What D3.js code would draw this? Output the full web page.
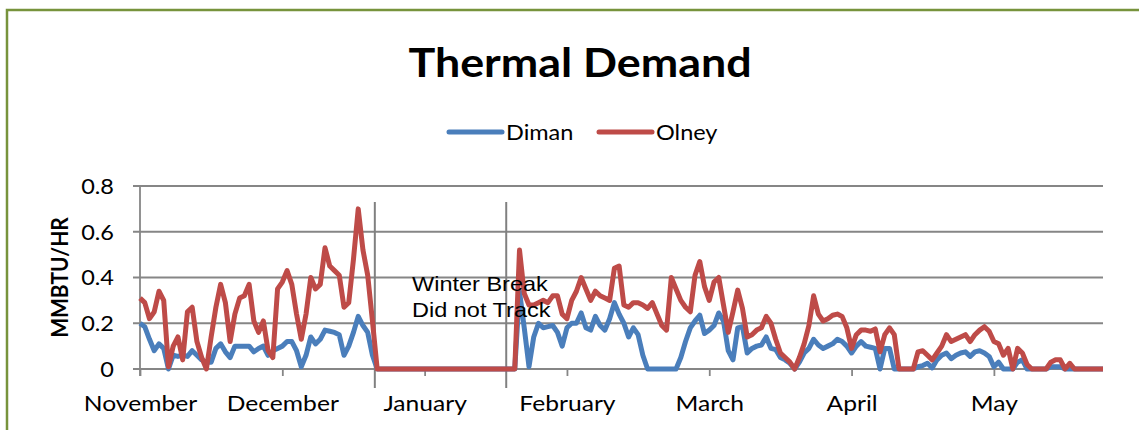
<!DOCTYPE html>
<html>
<head>
<meta charset="utf-8">
<script src="https://cdn.jsdelivr.net/npm/d3@7"></script>
<style>
  body { margin: 0; background: #fff; }
  svg { display: block; font-family: Lato, "Open Sans", sans-serif; }
</style>
</head>
<body>
<svg id="chart" width="1139" height="430"></svg>
<script>
// month labels, one every 30 readings
const months = ["November", "December", "January", "February", "March", "April", "May"];
const labelEvery = 30;
const yTicks = [0, 0.2, 0.4, 0.6, 0.8];

// daily readings, MMBTU/HR
const diman = [
  0.20, 0.185, 0.13, 0.08, 0.11, 0.09, 0.00, 0.06, 0.055, 0.06,
  0.055, 0.08, 0.06, 0.04, 0.03, 0.03, 0.09, 0.11, 0.075, 0.05,
  0.10, 0.10, 0.10, 0.10, 0.075, 0.09, 0.10, 0.06, 0.08, 0.09,
  0.10, 0.12, 0.12, 0.08, 0.01, 0.06, 0.14, 0.11, 0.13, 0.17,
  0.165, 0.16, 0.15, 0.06, 0.10, 0.16, 0.23, 0.19, 0.16, 0.06,
  0, 0, 0, 0, 0, 0, 0, 0, 0, 0,
  0, 0, 0, 0, 0, 0, 0, 0, 0, 0,
  0, 0, 0, 0, 0, 0, 0, 0, 0, 0,
  0.34, 0.18, 0.01, 0.14, 0.20, 0.18, 0.185, 0.19, 0.16, 0.10,
  0.18, 0.20, 0.20, 0.245, 0.18, 0.17, 0.23, 0.19, 0.17, 0.22,
  0.29, 0.24, 0.20, 0.14, 0.18, 0.15, 0.06, 0.00, 0, 0,
  0, 0, 0, 0, 0.05, 0.12, 0.18, 0.21, 0.235, 0.155,
  0.17, 0.19, 0.245, 0.21, 0.08, 0.04, 0.18, 0.185, 0.07, 0.09,
  0.10, 0.105, 0.14, 0.09, 0.085, 0.05, 0.04, 0.025, 0, 0.03,
  0.07, 0.09, 0.13, 0.105, 0.09, 0.10, 0.11, 0.13, 0.12, 0.10,
  0.07, 0.10, 0.12, 0.10, 0.095, 0.09, 0, 0.09, 0.09, 0,
  0, 0, 0, 0, 0.01, 0.015, 0.025, 0.005, 0.04, 0.06,
  0.07, 0.045, 0.06, 0.07, 0.075, 0.055, 0.075, 0.08, 0.07, 0.055,
  0.01, 0.03, 0, 0, 0, 0.03, 0.04, 0, 0, 0,
  0, 0, 0.01, 0.01, 0.01, 0, 0, 0, 0, 0,
  0, 0, 0, 0
];

const olney = [
  0.31, 0.29, 0.22, 0.25, 0.34, 0.30, 0.01, 0.10, 0.14, 0.04,
  0.25, 0.27, 0.12, 0.05, 0.00, 0.14, 0.27, 0.37, 0.29, 0.12,
  0.24, 0.31, 0.32, 0.37, 0.21, 0.16, 0.21, 0.08, 0.05, 0.35,
  0.38, 0.43, 0.37, 0.24, 0.13, 0.24, 0.40, 0.35, 0.37, 0.53,
  0.45, 0.43, 0.41, 0.27, 0.29, 0.48, 0.70, 0.52, 0.41, 0.21,
  0, 0, 0, 0, 0, 0, 0, 0, 0, 0,
  0, 0, 0, 0, 0, 0, 0, 0, 0, 0,
  0, 0, 0, 0, 0, 0, 0, 0, 0, 0,
  0.52, 0.33, 0.28, 0.28, 0.29, 0.30, 0.29, 0.32, 0.32, 0.24,
  0.22, 0.30, 0.34, 0.40, 0.35, 0.30, 0.34, 0.32, 0.31, 0.30,
  0.44, 0.45, 0.28, 0.27, 0.29, 0.29, 0.28, 0.265, 0.29, 0.24,
  0.19, 0.17, 0.40, 0.35, 0.30, 0.27, 0.25, 0.41, 0.47, 0.36,
  0.30, 0.38, 0.40, 0.28, 0.16, 0.25, 0.345, 0.265, 0.14, 0.15,
  0.17, 0.18, 0.23, 0.20, 0.13, 0.07, 0.05, 0.03, 0.00, 0.05,
  0.11, 0.19, 0.32, 0.24, 0.21, 0.22, 0.235, 0.24, 0.23, 0.18,
  0.09, 0.15, 0.17, 0.17, 0.165, 0.175, 0.075, 0.15, 0.18, 0.15,
  0, 0, 0, 0, 0.075, 0.08, 0.06, 0.04, 0.07, 0.10,
  0.15, 0.12, 0.13, 0.14, 0.15, 0.12, 0.15, 0.17, 0.185, 0.165,
  0.12, 0.11, 0.06, 0.09, 0.00, 0.09, 0.07, 0.02, 0, 0,
  0, 0, 0.03, 0.04, 0.04, 0, 0.025, 0, 0, 0,
  0, 0, 0, 0
];

// drawn-in separators around the winter break (in reading index units)
const breakMarks = [49.5, 77.2];

const svg = d3.select("#chart");
const margin = { left: 140, right: 36, top: 186, bottom: 61 };
const width = +svg.attr("width");
const height = +svg.attr("height");
// the source picture is a little wider than tall, so text is stretched
const stretch = 1.12;

const x = d3.scaleLinear()
  .domain([0, diman.length - 1])
  .range([margin.left, width - margin.right]);
const y = d3.scaleLinear()
  .domain([0, 0.8])
  .range([height - margin.bottom, margin.top]);

function label(g, tx, ty, str, size) {
  return g.append("text")
    .attr("transform", `translate(${tx},${ty}) scale(${stretch},1)`)
    .attr("font-size", size)
    .text(str);
}

// outer frame
svg.append("rect")
  .attr("x", 7).attr("y", 10)
  .attr("width", width + 20).attr("height", height + 20)
  .attr("fill", "none")
  .attr("stroke", "#77933C")
  .attr("stroke-width", 2.5);

// title
label(svg, 580, 77, "Thermal Demand", 40)
  .attr("text-anchor", "middle")
  .attr("font-weight", "bold");

// legend
[["Diman", "#4A7EBB", 449], ["Olney", "#BE4B48", 599]].forEach(([name, color, lx]) => {
  svg.append("line")
    .attr("x1", lx).attr("x2", lx + 53)
    .attr("y1", 132).attr("y2", 132)
    .attr("stroke", color)
    .attr("stroke-width", 5)
    .attr("stroke-linecap", "round");
  label(svg, lx + 57, 140, name, 21);
});

// horizontal gridlines
svg.append("g")
  .selectAll("line")
  .data(yTicks)
  .join("line")
  .attr("x1", margin.left - 7)
  .attr("x2", width - margin.right)
  .attr("y1", (d) => y(d))
  .attr("y2", (d) => y(d))
  .attr("stroke", "#868686")
  .attr("stroke-width", 1.8);

// y axis
const yAxis = svg.append("g")
  .attr("transform", `translate(${margin.left},0)`)
  .call(d3.axisLeft(y).tickValues(yTicks).tickSize(0).tickPadding(0)
    .tickFormat((d) => (d === 0 ? "0" : d3.format(".1f")(d))));
yAxis.select(".domain").remove();
yAxis.selectAll("text")
  .attr("x", 0).attr("dy", "0.35em")
  .attr("transform", `translate(-26,0) scale(${stretch},1)`)
  .attr("font-size", 21).attr("font-family", "Lato, sans-serif").attr("fill", "#000");

svg.append("line")
  .attr("x1", margin.left).attr("x2", margin.left)
  .attr("y1", y(0.8)).attr("y2", y(0) + 7)
  .attr("stroke", "#868686")
  .attr("stroke-width", 1.8);

// x axis
const monthIdx = months.map((m, i) => i * labelEvery);
const xAxis = svg.append("g")
  .attr("transform", `translate(0,${y(0)})`)
  .call(d3.axisBottom(x).tickValues(monthIdx).tickSize(7)
    .tickFormat((d, i) => months[i]));
xAxis.select(".domain").remove();
xAxis.selectAll(".tick line").attr("stroke", "#868686").attr("stroke-width", 1.8);
xAxis.selectAll("text")
  .attr("y", 0).attr("dy", 0)
  .attr("transform", `translate(0,42) scale(${stretch},1)`)
  .attr("font-size", 22).attr("font-family", "Lato, sans-serif").attr("fill", "#000");

// axis title
svg.append("text")
  .attr("transform", `translate(68,${(y(0) + y(0.8)) / 2}) rotate(-90) scale(1,${stretch})`)
  .attr("text-anchor", "middle")
  .attr("font-size", 21)
  .attr("font-weight", "bold")
  .text("MMBTU/HR");

// break separators
svg.append("g")
  .selectAll("line")
  .data(breakMarks)
  .join("line")
  .attr("x1", (d) => x(d)).attr("x2", (d) => x(d))
  .attr("y1", 202).attr("y2", 388)
  .attr("stroke", "#808080")
  .attr("stroke-width", 2);

// series
const line = d3.line()
  .x((d, i) => x(i))
  .y((d) => y(d));

[[diman, "#4A7EBB"], [olney, "#BE4B48"]].forEach(([values, color]) => {
  svg.append("path")
    .datum(values)
    .attr("fill", "none")
    .attr("stroke", color)
    .attr("stroke-width", 5)
    .attr("stroke-linejoin", "round")
    .attr("d", line);
});

// annotation
const note = svg.append("text")
  .attr("transform", `translate(412,0) scale(${stretch},1)`)
  .attr("font-family", "'Liberation Sans', Arial, sans-serif")
  .attr("font-size", 21);
note.append("tspan").attr("x", 0).attr("y", 291).text("Winter Break");
note.append("tspan").attr("x", 0).attr("y", 317).text("Did not Track");
</script>
</body>
</html>
